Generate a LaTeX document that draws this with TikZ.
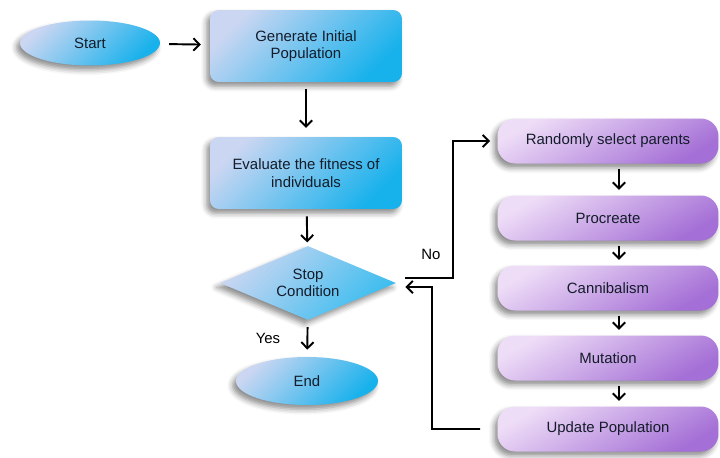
\documentclass[tikz,border=0pt]{standalone}
\usepackage{fontspec}
\setmainfont{Liberation Sans}
\usetikzlibrary{shapes.geometric,arrows.meta,shadows.blur}
\definecolor{bluelight}{HTML}{CAD6F2}
\definecolor{bluedark}{HTML}{17B1EC}
\definecolor{purplelight}{HTML}{EEDDF7}
\definecolor{purpledark}{HTML}{A46FD6}
\definecolor{textdark}{HTML}{141C2A}

\begin{document}
\begin{tikzpicture}[x=0.02cm, y=-0.02cm,
	font=\fontsize{8.5}{10}\selectfont,
	softshadow/.style={blur shadow={shadow xshift=-2pt, shadow yshift=-2.5pt, shadow blur radius=3pt, shadow opacity=45}},
	bluebox/.style={softshadow, rounded corners=5pt, top color=bluelight, bottom color=bluedark, shading angle=45, minimum width=3.84cm, minimum height=1.44cm, align=center, text=textdark},
	terminal/.style={softshadow, ellipse, top color=bluelight, bottom color=bluedark, shading angle=45, minimum width=2.8cm, minimum height=0.9cm, inner sep=0pt, text=textdark},
	decision/.style={softshadow, diamond, aspect=2.4, top color=bluelight, bottom color=bluedark!85, shading angle=45, minimum width=3.52cm, minimum height=1.48cm, inner sep=1pt, align=center, text=textdark},
	stepbox/.style={softshadow, rounded corners=10pt, top color=purplelight, bottom color=purpledark, shading angle=30, minimum width=4.42cm, minimum height=0.9cm, text=textdark},
	arrow/.style={-{Straight Barb[length=3.5pt,width=7pt]}, line width=1.1pt}]
	\useasboundingbox (0,0) rectangle (720,457);
	% main column
	\node[terminal] (start) at (90,43) {Start};
	\node[bluebox] (gen) at (306,46) {Generate Initial\\Population};
	\node[bluebox] (eval) at (306,173) {Evaluate the fitness of\\individuals};
	\node[decision] (stop) at (308,283) {Stop\\Condition};
	\node[terminal, minimum width=2.84cm, minimum height=0.96cm] (end) at (307,381) {End};
	% loop column
	\node[stepbox] (rand) at (608,141) {Randomly select parents};
	\node[stepbox] (proc) at (608,218) {Procreate};
	\node[stepbox] (cann) at (608,288) {Cannibalism};
	\node[stepbox] (mut) at (608,358) {Mutation};
	\node[stepbox] (upd) at (608,429) {Update Population};
	\coordinate (nobend) at (453,141);
	\coordinate (retbend) at (432,287);
	% connectors
	\draw[arrow, shorten <=5pt, shorten >=5pt] (start) -- (gen);
	\draw[arrow, shorten <=4pt, shorten >=5pt] (gen) -- (eval);
	\draw[arrow, shorten <=4pt, shorten >=2pt] (eval) -- (stop);
	\draw[arrow, shorten <=4pt, shorten >=4pt] (stop) -- (end);
	\draw[arrow, shorten <=3pt, shorten >=3pt] ([xshift=0.22cm]rand.south) -- ([xshift=0.22cm]proc.north);
	\draw[arrow, shorten <=3pt, shorten >=3pt] ([xshift=0.22cm]proc.south) -- ([xshift=0.22cm]cann.north);
	\draw[arrow, shorten <=3pt, shorten >=3pt] ([xshift=0.22cm]cann.south) -- ([xshift=0.22cm]mut.north);
	\draw[arrow, shorten <=3pt, shorten >=3pt] ([xshift=0.22cm]mut.south) -- ([xshift=0.22cm]upd.north);
	\draw[arrow] ([shift={(0.18cm,0.1cm)}]stop.east) -| (nobend) -- ([xshift=-0.14cm]rand.west);
	\draw[arrow] ([xshift=-0.34cm]upd.west) -| (retbend) -- ([shift={(0.18cm,-0.08cm)}]stop.east);
	\node (no) at (431,254) {No};
	\node (yes) at (268,338) {Yes};
\end{tikzpicture}
\end{document}
